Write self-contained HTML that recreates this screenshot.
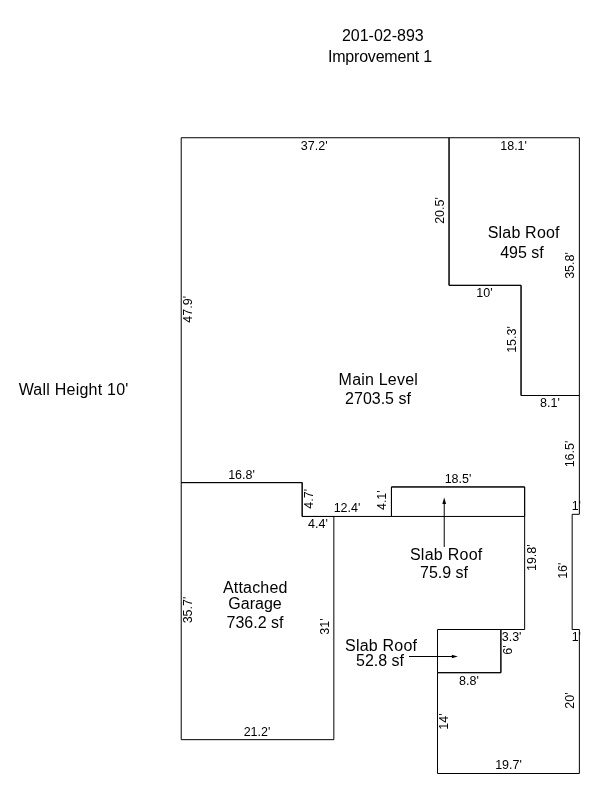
<!DOCTYPE html>
<html><head><meta charset="utf-8">
<style>
html,body{margin:0;padding:0;background:#fff;}
body{width:600px;height:800px;overflow:hidden;}
svg{display:block;will-change:transform;filter:grayscale(1);}
text{font-family:"Liberation Sans",sans-serif;fill:#000;text-anchor:middle;}
.d{font-size:12.5px;}
.b{font-size:16px;}
</style></head><body>
<svg width="600" height="800" viewBox="0 0 600 800">
<rect width="600" height="800" fill="#fff"/>
<g fill="none" stroke="#000" stroke-width="1" stroke-linejoin="miter">
<path d="M181.21 137.74 L449.05 137.74 L449.05 285.34 L521.05 285.34 L521.05 395.50 L579.37 395.50 L579.37 514.30 L572.17 514.30 L572.17 629.50 L579.37 629.50 L579.37 773.50 L437.53 773.50 L437.53 672.70 L500.89 672.70 L500.89 629.50 L524.65 629.50 L524.65 486.94 L391.45 486.94 L391.45 516.46 L302.17 516.46 L302.17 482.62 L181.21 482.62 Z"/>
<path d="M449.05 137.74 L579.37 137.74 L579.37 395.50 L521.05 395.50 L521.05 285.34 L449.05 285.34 Z"/>
<path d="M181.21 482.62 L302.17 482.62 L302.17 516.46 L333.85 516.46 L333.85 739.66 L181.21 739.66 Z"/>
<path d="M391.45 486.94 L524.65 486.94 L524.65 516.46 L391.45 516.46 Z"/>
<path d="M437.53 629.50 L500.89 629.50 L500.89 672.70 L437.53 672.70 Z"/>
<path d="M444.22 547 V502"/>
<path d="M409 656.5 H454"/>
</g>
<path d="M444.22 497.6 L446.12 504 L442.32 504 Z" fill="#000"/>
<path d="M457.8 656.5 L451.8 654.8 L451.8 658.2 Z" fill="#000"/>
<text class="b" x="382.8" y="41">201-02-893</text>
<text class="b" x="380.0" y="62" style="letter-spacing:-0.21px">Improvement 1</text>
<text class="b" x="73.61" y="395" style="letter-spacing:0.23px">Wall Height 10'</text>
<text class="b" x="378.3" y="385" style="letter-spacing:0.2px">Main Level</text>
<text class="b" x="378" y="404">2703.5 sf</text>
<text class="b" x="523.7" y="238" style="letter-spacing:0.2px">Slab Roof</text>
<text class="b" x="522" y="258">495 sf</text>
<text class="b" x="446.24" y="560" style="letter-spacing:0.27px">Slab Roof</text>
<text class="b" x="444" y="578">75.9 sf</text>
<text class="b" x="381.11" y="651" style="letter-spacing:0.22px">Slab Roof</text>
<text class="b" x="380" y="666">52.8 sf</text>
<text class="b" x="255.28" y="593" style="letter-spacing:0.17px">Attached</text>
<text class="b" x="255" y="609">Garage</text>
<text class="b" x="255" y="628">736.2 sf</text>
<text class="d" x="314.2" y="150">37.2'</text>
<text class="d" x="513.6" y="150">18.1'</text>
<text class="d" x="484.5" y="297">10'</text>
<text class="d" x="550" y="407">8.1'</text>
<text class="d" x="241.5" y="479">16.8'</text>
<text class="d" x="347" y="512">12.4'</text>
<text class="d" x="318" y="528.3">4.4'</text>
<text class="d" x="458" y="483.2">18.5'</text>
<text class="d" x="257" y="736">21.2'</text>
<text class="d" x="469" y="685">8.8'</text>
<text class="d" x="508.5" y="769">19.7'</text>
<text class="d" x="511.6" y="640.7">3.3'</text>
<text class="d" x="576.3" y="510">1'</text>
<text class="d" x="576.3" y="641">1'</text>
<text class="d" transform="translate(192,309.3) rotate(-90)">47.9'</text>
<text class="d" transform="translate(444.2,210.5) rotate(-90)">20.5'</text>
<text class="d" transform="translate(574.2,265.5) rotate(-90)">35.8'</text>
<text class="d" transform="translate(515.5,339.5) rotate(-90)">15.3'</text>
<text class="d" transform="translate(573.8,454) rotate(-90)">16.5'</text>
<text class="d" transform="translate(313,498.8) rotate(-90)">4.7'</text>
<text class="d" transform="translate(385.5,500.2) rotate(-90)">4.1'</text>
<text class="d" transform="translate(536.1,557.7) rotate(-90)">19.8'</text>
<text class="d" transform="translate(566.6,570.7) rotate(-90)">16'</text>
<text class="d" transform="translate(192,610) rotate(-90)">35.7'</text>
<text class="d" transform="translate(329,626.5) rotate(-90)">31'</text>
<text class="d" transform="translate(512.3,650) rotate(-90)">6'</text>
<text class="d" transform="translate(574.3,700.5) rotate(-90)">20'</text>
<text class="d" transform="translate(448,721.6) rotate(-90)">14'</text>
</svg>
</body></html>
